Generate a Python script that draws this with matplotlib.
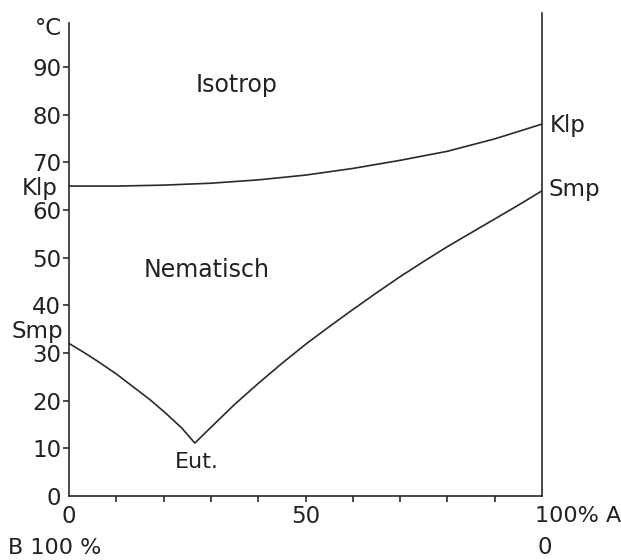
import matplotlib
matplotlib.use("Agg")
import matplotlib.pyplot as plt

# Klärpunkt (clearing point) curve
klp_x = [0, 10, 20, 30, 40, 50, 60, 70, 80, 90, 100]
klp_t = [65.0, 65.0, 65.2, 65.6, 66.3, 67.3, 68.7, 70.4, 72.3, 74.9, 78.0]

# Schmelzpunkt (melting point) curve with eutectic
smp_x = [0, 3, 6, 10, 13.3, 17, 20.3, 23.8, 26.6, 30, 35, 40, 45, 50, 55, 60, 65, 70, 75, 80, 85, 90, 95, 100]
smp_t = [32.0, 30.2, 28.3, 25.6, 23.1, 20.3, 17.5, 14.3, 11.1, 14.4, 19.2, 23.6, 27.8, 31.8, 35.5, 39.1, 42.6, 46.0, 49.2, 52.3, 55.2, 58.1, 61.0, 64.0]

y_ticks = [0, 10, 20, 30, 40, 50, 60, 70, 80, 90]
x_ticks = [0, 10, 20, 30, 40, 50, 60, 70, 80, 90, 100]
x_ticklabels = ["0", "", "", "", "", "50", "", "", "", "", ""]

col = "#2a2a2a"
plt.rcParams['font.family'] = ['DejaVu Sans']

fig = plt.figure(figsize=(6.21, 5.6), dpi=100)
ax = fig.add_axes([69/621, 1-496/560, 473/621, 483/560])
ax.set_xlim(0, 100)
ax.set_ylim(0, 101.3)

ax.plot(klp_x, klp_t, color=col, lw=1.2)
ax.plot(smp_x, smp_t, color=col, lw=1.2)

ax.spines["top"].set_visible(False)
for s in ["left", "bottom", "right"]:
    ax.spines[s].set_color(col)
    ax.spines[s].set_linewidth(1.2)
ax.spines["left"].set_bounds(0, 99.2)

fs = 16.5
ax.set_yticks(y_ticks)
ax.set_yticklabels([str(v) for v in y_ticks])
ax.set_xticks(x_ticks)
ax.set_xticklabels(x_ticklabels)
ax.tick_params(axis="both", direction="out", length=4, width=1.2, color=col,
               labelsize=fs, labelcolor="#222222")
ax.tick_params(axis="y", pad=1.5)
ax.tick_params(axis="x", pad=2.5)
xt = ax.xaxis.get_major_ticks()
xt[0].tick1line.set_visible(False)
xt[-1].tick1line.set_visible(False)
yt = ax.yaxis.get_major_ticks()
yt[0].tick1line.set_visible(False)

tc = "#222222"
ax.text(-1.5, 98.1, "°C", ha="right", va="center", fontsize=fs, color=tc, clip_on=False)
ax.text(-2.3, 64.4, "Klp", ha="right", va="center", fontsize=fs, color=tc, clip_on=False)
ax.text(-1.2, 34.4, "Smp", ha="right", va="center", fontsize=fs, color=tc, clip_on=False)
ax.text(27, 7.1, "Eut.", ha="center", va="center", fontsize=16, color=tc)
ax.text(35.5, 86.2, "Isotrop", ha="center", va="center", fontsize=17, color=tc)
ax.text(29, 47.4, "Nematisch", ha="center", va="center", fontsize=17, color=tc)
ax.text(101.7, 77.8, "Klp", ha="left", va="center", fontsize=fs, color=tc, clip_on=False)
ax.text(101.3, 64.2, "Smp", ha="left", va="center", fontsize=fs, color=tc, clip_on=False)
ax.text(98.6, -4.2, "100% A", ha="left", va="center", fontsize=16, color=tc, clip_on=False)
ax.text(100.6, -10.9, "0", ha="center", va="center", fontsize=fs, color=tc, clip_on=False)
ax.text(-12.9, -10.9, "B 100 %", ha="left", va="center", fontsize=16, color=tc, clip_on=False)

fig.savefig("out.png", dpi=100)
